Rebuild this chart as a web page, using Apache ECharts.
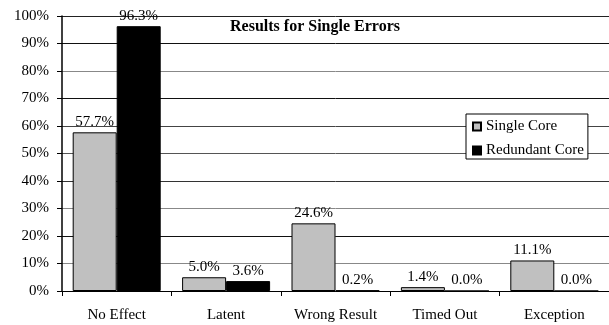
<!DOCTYPE html>
<html>
<head>
<meta charset="utf-8">
<script src="https://cdn.jsdelivr.net/npm/echarts@6/dist/echarts.min.js"></script>
<style>html,body{margin:0;padding:0;background:#fff}#c{width:609px;height:325px}</style>
</head>
<body>
<div id="c"></div>
<script>
var categories = ['No Effect', 'Latent', 'Wrong Result', 'Timed Out', 'Exception'];
var singleCore = [57.7, 5.0, 24.6, 1.4, 11.1];
var redundantCore = [96.3, 3.6, 0.2, 0.0, 0.0];
var titleText = 'Results for Single Errors';
var seriesNames = ['Single Core', 'Redundant Core'];

var font = 'Liberation Serif, Times New Roman, serif';
var chart = echarts.init(document.getElementById('c'), null, {renderer: 'canvas'});
var lbl = {
  show: true, position: 'top', distance: 3, color: '#000',
  fontFamily: font, fontSize: 15,
  formatter: function (p) { return p.value.toFixed(1) + '%'; }
};
chart.setOption({
  animation: false,
  backgroundColor: '#fff',
  title: {
    text: titleText, left: 310, top: 14, textAlign: 'center',
    textStyle: {fontFamily: font, fontSize: 16, fontWeight: 'bold', color: '#000'}
  },
  legend: {
    orient: 'vertical', left: 466, top: 114,
    data: seriesNames,
    itemWidth: 8, itemHeight: 8, itemGap: 9,
    padding: [5, 4, 1, 6],
    borderColor: '#000', borderWidth: 1, backgroundColor: '#fff',
    icon: 'rect',
    textStyle: {fontFamily: font, fontSize: 15, color: '#000', padding: [0, 0, 0, 0]}
  },
  grid: {left: 62, top: 16, width: 550, height: 275},
  xAxis: {
    type: 'category', data: categories,
    axisLine: {lineStyle: {color: '#000', width: 1}},
    axisTick: {show: true, length: 5, inside: false, lineStyle: {color: '#000'}},
    axisLabel: {fontFamily: font, fontSize: 15, color: '#000', margin: 17}
  },
  yAxis: {
    type: 'value', min: 0, max: 100, interval: 10,
    axisLine: {show: true, lineStyle: {color: '#000', width: 1.5}},
    axisTick: {show: true, length: 5, lineStyle: {color: '#000'}},
    axisLabel: {fontFamily: font, fontSize: 15, color: '#000', margin: 13,
      formatter: function (v) { return v + '%'; }},
    splitLine: {show: true, lineStyle: {color: ['#000', '#888', '#111', '#888', '#333', '#555', '#444', '#111', '#888', '#111', '#222'], width: 1}}
  },
  series: [
    {
      name: seriesNames[0], type: 'bar', data: singleCore,
      barWidth: 44, barGap: '0%',
      itemStyle: {color: '#c0c0c0', borderColor: '#000', borderWidth: 1},
      label: lbl
    },
    {
      name: seriesNames[1], type: 'bar', data: redundantCore,
      barWidth: 44,
      itemStyle: {color: '#000', borderColor: '#000', borderWidth: 1},
      label: lbl
    }
  ]
});
</script>
</body>
</html>
